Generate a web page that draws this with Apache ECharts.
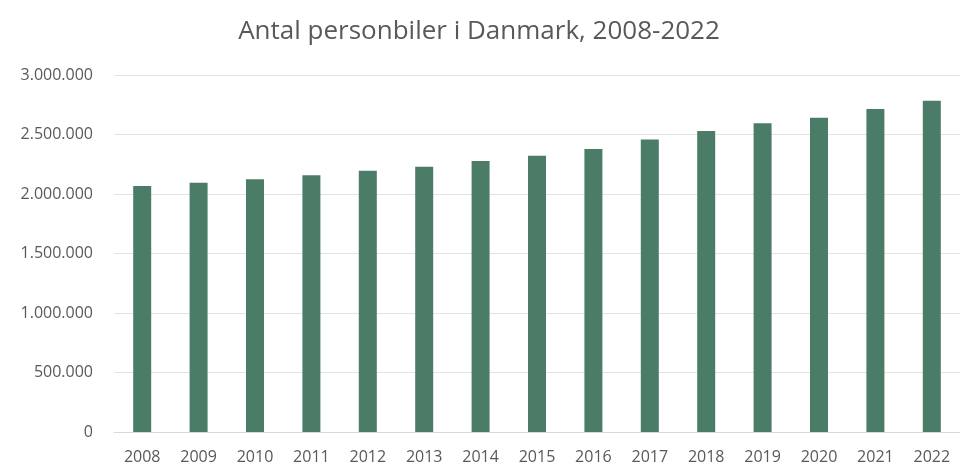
<!DOCTYPE html>
<html>
<head>
    <meta charset="utf-8">
    <title>Antal personbiler i Danmark</title>
    <script src="https://cdn.jsdelivr.net/npm/echarts@6/dist/echarts.min.js"></script>
    <style>
        html, body { margin: 0; padding: 0; background: #fff; }
        #chart { width: 960px; height: 466px; }
    </style>
</head>
<body>
<div id="chart"></div>
<script>
    // years on the x axis
    const years = ['2008', '2009', '2010', '2011', '2012', '2013', '2014', '2015',
        '2016', '2017', '2018', '2019', '2020', '2021', '2022'];
    // number of passenger cars
    const cars = [2067000, 2095000, 2123000, 2157000, 2196000, 2229000, 2277000, 2322000,
        2378000, 2459000, 2529000, 2594000, 2641000, 2714000, 2784000];

    const titleText = 'Antal personbiler i Danmark, 2008-2022';
    const textColor = '#595959';

    // Danish thousands separator
    function fmt(v) {
        return String(v).replace(/\B(?=(\d{3})+(?!\d))/g, '.');
    }

    const chart = echarts.init(document.getElementById('chart'));
    chart.setOption({
        animation: false,
        title: {
            text: titleText,
            left: 474,
            textAlign: 'center',
            top: 14,
            textStyle: { fontFamily: 'Open Sans', fontSize: 26, fontWeight: 'normal', color: textColor }
        },
        grid: { left: 114, top: 75, width: 860, height: 357 },
        xAxis: {
            type: 'category',
            data: years,
            axisLine: { lineStyle: { color: '#d9d9d9' } },
            axisTick: { show: false },
            axisLabel: { color: textColor, fontFamily: 'Open Sans', fontSize: 16, margin: 17 }
        },
        yAxis: {
            type: 'value',
            min: 0,
            max: 3000000,
            interval: 500000,
            axisLine: { show: false },
            axisTick: { show: false },
            splitLine: { lineStyle: { color: '#e3e3e3' } },
            axisLabel: { color: textColor, fontFamily: 'Open Sans', fontSize: 16, margin: 21, formatter: fmt }
        },
        series: [{
            type: 'bar',
            data: cars,
            barWidth: 18,
            itemStyle: { color: '#4a7c68' }
        }]
    });
</script>
</body>
</html>
